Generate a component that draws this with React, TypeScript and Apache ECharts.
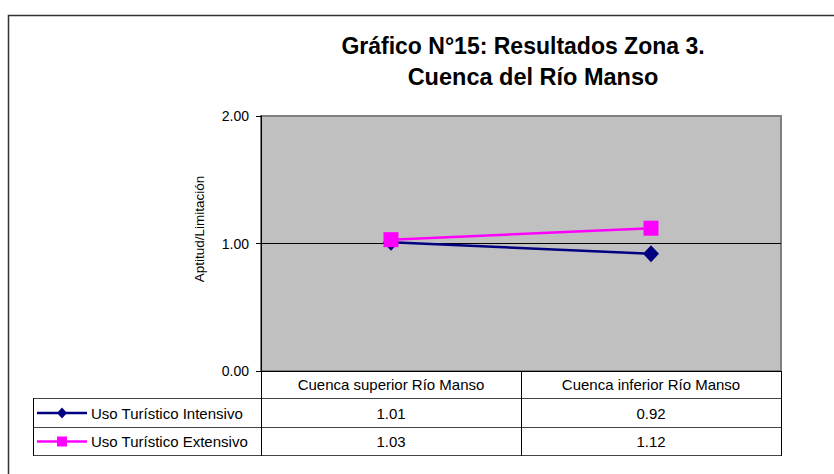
import React, { useEffect, useRef } from "react";
import * as echarts from "echarts";

const categories = ["Cuenca superior Río Manso", "Cuenca inferior Río Manso"];
const seriesNames = ["Uso Turístico Intensivo", "Uso Turístico Extensivo"];
const intensivo = [1.01, 0.92];
const extensivo = [1.03, 1.12];
const yTicks = [0, 1, 2];
const titleLines = ["Gráfico N°15: Resultados Zona 3.", "Cuenca del Río Manso"];
const yName = "Aptitud/Limitación";

const FONT = "'Liberation Sans', Arial, sans-serif";
const NAVY = "#000080";
const MAGENTA = "#ff00ff";

export default function App() {
  const ref = useRef<HTMLDivElement>(null);
  useEffect(() => {
    if (!ref.current) return;
    const chart = echarts.init(ref.current, undefined, { renderer: "svg" });

    const gL = 261;
    const gR = 781;
    const gT = 116;
    const gB = 371;
    const colW = (gR - gL) / categories.length;
    const tblL = 33;
    const hdrB = 398;
    const row1B = 427;
    const row2B = 455;
    const rowCenters = [413, 441.5];
    const seriesData = [intensivo, extensivo];
    const colors = [NAVY, MAGENTA];

    const graphics: any[] = [];
    graphics.push({
      type: "rect",
      shape: { x: 8.5, y: 15.5, width: 900, height: 600 },
      style: { fill: "none", stroke: "#333", lineWidth: 1.5 },
      silent: true,
      z: -10,
    });
    graphics.push({
      type: "text",
      x: 523,
      y: 34,
      style: { text: titleLines[0], font: `bold 23px ${FONT}`, fill: "#000", align: "center", verticalAlign: "top" },
    });
    graphics.push({
      type: "text",
      x: 533,
      y: 65,
      style: { text: titleLines[1], font: `bold 23.5px ${FONT}`, fill: "#000", align: "center", verticalAlign: "top" },
    });
    graphics.push({
      type: "text",
      x: 199,
      y: 229,
      rotation: Math.PI / 2,
      style: { text: yName, font: `13.5px ${FONT}`, fill: "#000", align: "center", verticalAlign: "middle" },
    });
    const hl = (x1: number, x2: number, y: number, c = "#444") =>
      graphics.push({ type: "line", shape: { x1, y1: y, x2, y2: y }, style: { stroke: c, lineWidth: 1 }, silent: true });
    const vl = (x: number, y1: number, y2: number) =>
      graphics.push({ type: "line", shape: { x1: x, y1, x2: x, y2 }, style: { stroke: "#000", lineWidth: 1 }, silent: true });
    hl(gL, gR, hdrB + 0.5);
    hl(tblL, gR, row1B + 0.5);
    hl(tblL, gR, row2B + 0.5);
    hl(tblL, gL, hdrB + 0.5);
    vl(tblL + 0.5, hdrB, row2B + 1);
    for (let i = 0; i <= categories.length; i++) {
      const x = Math.round(gL + i * colW) + 0.5;
      vl(x, gB, row2B + 1);
    }
    categories.forEach((c, i) => {
      graphics.push({
        type: "text",
        x: gL + (i + 0.5) * colW,
        y: 384,
        style: { text: c, font: `15px ${FONT}`, fill: "#000", align: "center", verticalAlign: "middle" },
      });
    });
    seriesNames.forEach((name, r) => {
      const cy = rowCenters[r];
      graphics.push({
        type: "line",
        shape: { x1: 37, y1: cy, x2: 87, y2: cy },
        style: { stroke: colors[r], lineWidth: 2.5 },
      });
      if (r === 0) {
        graphics.push({
          type: "polygon",
          shape: { points: [[62, cy - 5.5], [67, cy], [62, cy + 5.5], [57, cy]] },
          style: { fill: colors[r] },
        });
      } else {
        graphics.push({
          type: "rect",
          shape: { x: 57, y: cy - 5, width: 10, height: 10 },
          style: { fill: colors[r] },
        });
      }
      graphics.push({
        type: "text",
        x: 91,
        y: cy,
        style: { text: name, font: `15px ${FONT}`, fill: "#000", align: "left", verticalAlign: "middle" },
      });
      seriesData[r].forEach((v, i) => {
        graphics.push({
          type: "text",
          x: gL + (i + 0.5) * colW,
          y: cy,
          style: { text: v.toFixed(2), font: `15px ${FONT}`, fill: "#000", align: "center", verticalAlign: "middle" },
        });
      });
    });

    chart.setOption({
      animation: false,
      backgroundColor: "#fff",
      grid: {
        left: gL,
        top: gT,
        width: gR - gL,
        height: gB - gT,
        show: true,
        backgroundColor: "#c0c0c0",
        borderColor: "#808080",
        borderWidth: 2,
      },
      xAxis: {
        type: "category",
        data: categories,
        boundaryGap: true,
        axisLine: { show: true, lineStyle: { color: "#000", width: 1 } },
        axisTick: { show: false },
        axisLabel: { show: false },
        splitLine: { show: false },
      },
      yAxis: {
        type: "value",
        min: yTicks[0],
        max: yTicks[yTicks.length - 1],
        interval: 1,
        axisLine: { show: true, lineStyle: { color: "#000", width: 1 } },
        axisTick: { show: true, length: 5, lineStyle: { color: "#000" } },
        axisLabel: {
          color: "#000",
          fontSize: 14,
          fontFamily: FONT,
          margin: 12,
          formatter: (v: number) => v.toFixed(2),
        },
        splitLine: { show: true, lineStyle: { color: ["transparent", "#000", "transparent"], width: 1 } },
      },
      series: [
        {
          name: seriesNames[0],
          type: "line",
          data: intensivo,
          symbol: "diamond",
          symbolSize: [16, 17],
          lineStyle: { color: NAVY, width: 2.5 },
          itemStyle: { color: NAVY },
          z: 3,
        },
        {
          name: seriesNames[1],
          type: "line",
          data: extensivo,
          symbol: "rect",
          symbolSize: 15,
          lineStyle: { color: MAGENTA, width: 2.5 },
          itemStyle: { color: MAGENTA },
          z: 4,
        },
      ],
      graphic: graphics,
    });
    return () => chart.dispose();
  }, []);
  return <div ref={ref} style={{ position: "absolute", left: 0, top: 0, width: 834, height: 474 }} />;
}
